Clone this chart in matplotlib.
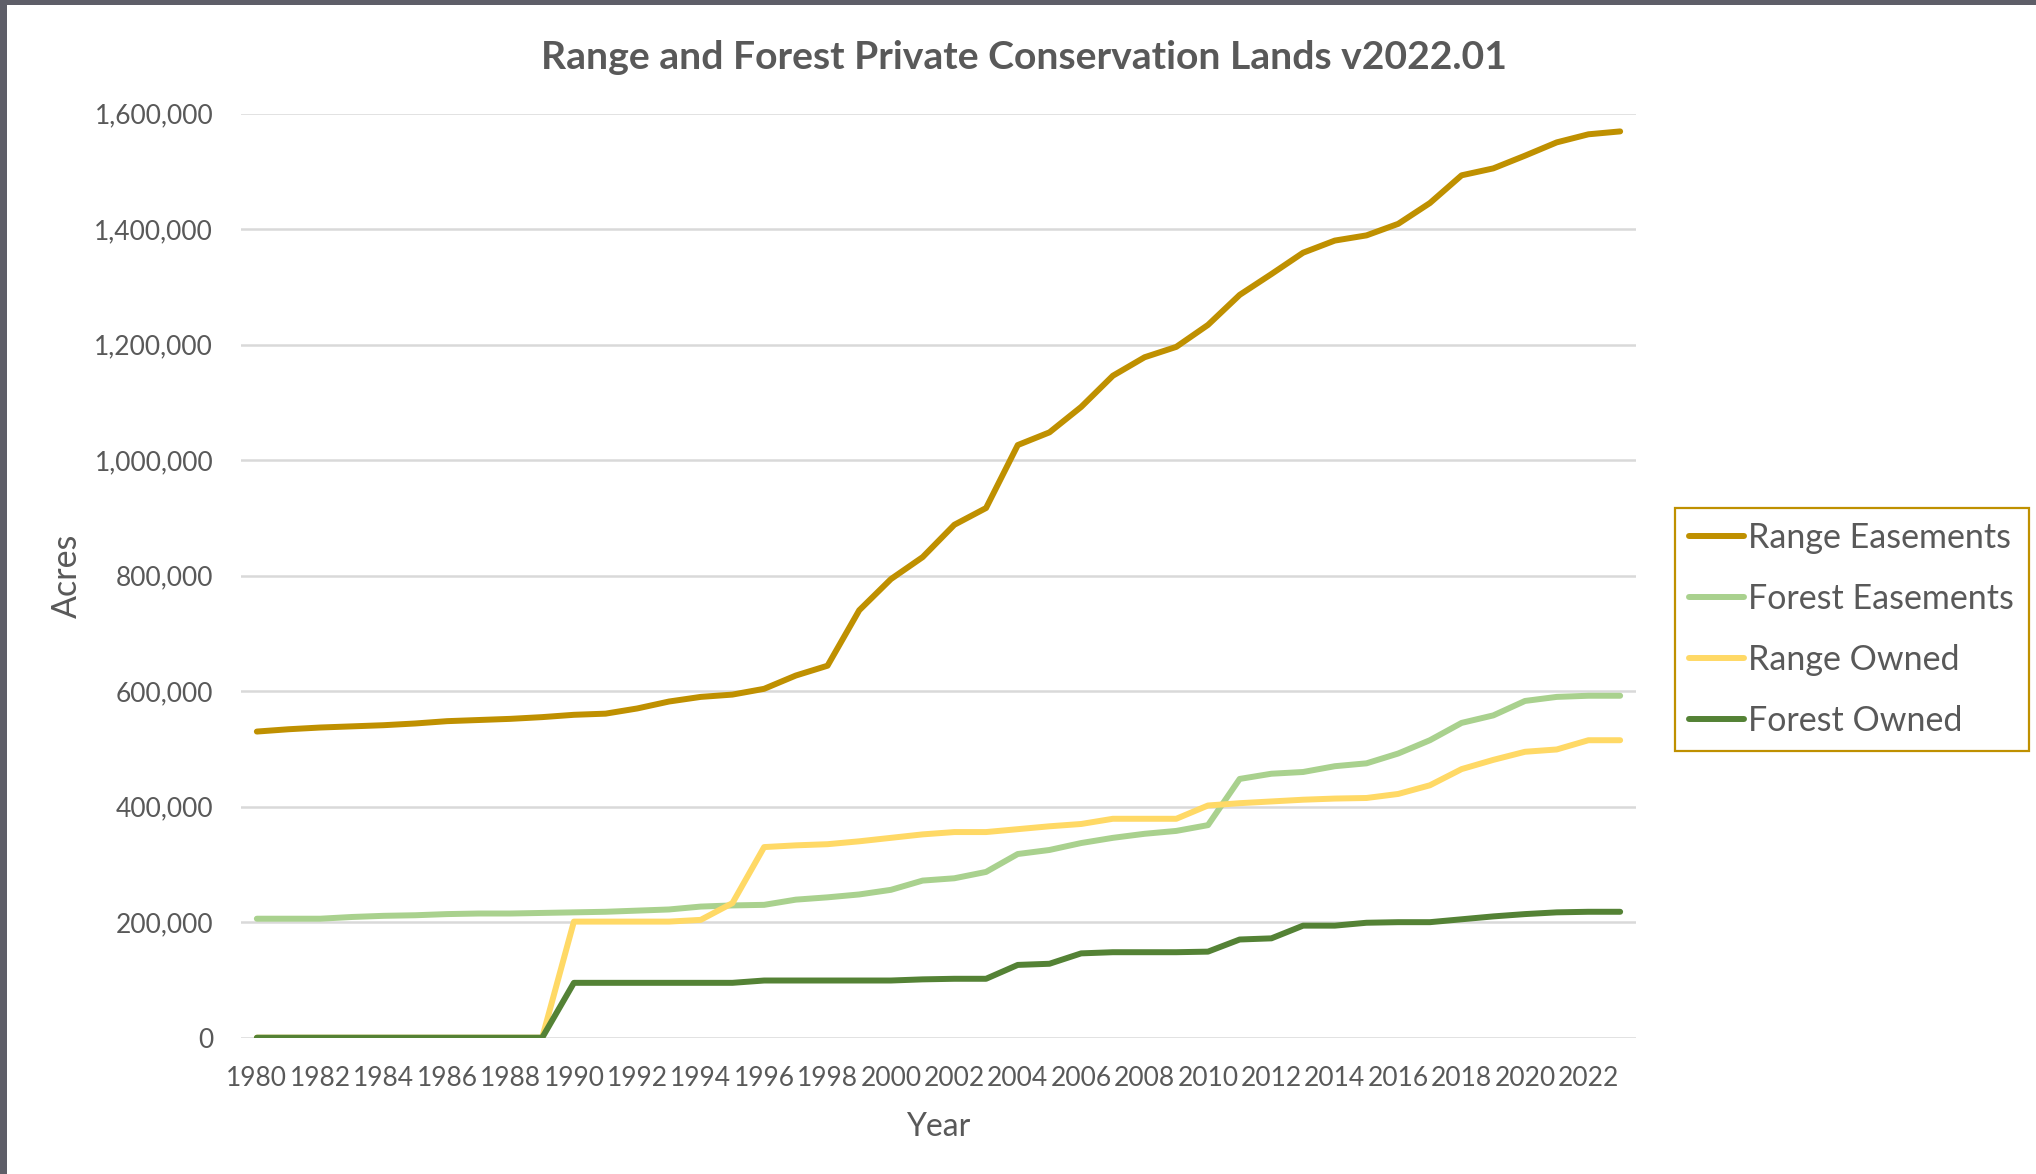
import matplotlib
matplotlib.use("Agg")
import matplotlib.pyplot as plt
from matplotlib.ticker import FuncFormatter
from matplotlib.patches import Rectangle

years = list(range(1980, 2024))

range_easements = [530, 534, 537, 539, 541, 544, 548, 550, 552, 555,
                   559, 561, 570, 582, 590, 594, 604, 627, 644, 740,
                   794, 832, 888, 917, 1026, 1048, 1092, 1146, 1178, 1196,
                   1234, 1286, 1322, 1359, 1380, 1389, 1409, 1445, 1493, 1505,
                   1527, 1550, 1564, 1569]
forest_easements = [206, 206, 206, 209, 211, 212, 214, 215, 215, 216,
                    217, 218, 220, 222, 227, 229, 230, 239, 243, 248,
                    256, 272, 276, 287, 318, 325, 337, 346, 353, 358,
                    368, 448, 457, 460, 470, 475, 492, 515, 545, 558,
                    583, 590, 592, 592]
range_owned = [0, 0, 0, 0, 0, 0, 0, 0, 0, 0,
               201, 201, 201, 201, 204, 233, 330, 333, 335, 340,
               346, 352, 356, 356, 361, 366, 370, 379, 379, 379,
               402, 406, 409, 412, 414, 415, 422, 437, 465, 481,
               495, 499, 515, 515]
forest_owned = [0, 0, 0, 0, 0, 0, 0, 0, 0, 0,
                95, 95, 95, 95, 95, 95, 99, 99, 99, 99,
                99, 101, 102, 102, 126, 128, 146, 148, 148, 148,
                149, 170, 172, 194, 194, 199, 200, 200, 205, 210,
                214, 217, 218, 218]

series_names = ["Range Easements", "Forest Easements", "Range Owned", "Forest Owned"]
series_values = [range_easements, forest_easements, range_owned, forest_owned]
series_colors = ["#BF9000", "#A9D18E", "#FFD966", "#548235"]

title = "Range and Forest Private Conservation Lands v2022.01"
y_ticks = [0, 200000, 400000, 600000, 800000, 1000000, 1200000, 1400000, 1600000]

TXT = "#595959"
plt.rcParams["font.family"] = ["Lato", "DejaVu Sans"]

fig = plt.figure(figsize=(20.36, 11.74), dpi=100)
fig.patch.set_facecolor("white")
ax = fig.add_axes([241 / 2036, 1 - 1037.7 / 1174, (1636 - 241) / 2036, (1037.7 - 113.5) / 1174])

x = list(range(len(years)))
for name, vals, col in zip(series_names, series_values, series_colors):
    ax.plot(x, [v * 1000 for v in vals], color=col, lw=4.3, label=name,
            solid_capstyle="round", solid_joinstyle="round", zorder=3)

ax.set_xlim(-0.5, len(years) - 0.5)
ax.set_ylim(0, 1600000)
ax.set_yticks(y_ticks)
ax.yaxis.set_major_formatter(FuncFormatter(lambda v, p: f"{int(v):,}"))
ax.set_xticks(x[::2])
ax.set_xticklabels([str(y) for y in years[::2]])
ax.grid(axis="y", color="#D9D9D9", lw=1.8, zorder=0)
ax.set_axisbelow(True)
for s in ax.spines.values():
    s.set_visible(False)
ax.tick_params(axis="both", length=0, labelsize=19, labelcolor=TXT)
ax.tick_params(axis="y", pad=20)
ax.tick_params(axis="x", pad=20.5)

ax.set_ylabel("Acres", fontsize=24.5, color=TXT)
ax.set_xlabel("Year", fontsize=23, color=TXT, labelpad=15.2)
ax.yaxis.set_label_coords(-0.113, 0.5)
fig.text(1024 / 2036, 1 - 57.5 / 1174, title, ha="center", va="center",
         fontsize=28.2, fontweight="bold", color=TXT)

leg = fig.legend(loc="upper left", bbox_to_anchor=(1675 / 2036, 1 - 508 / 1174),
                 fontsize=24.5, frameon=True, fancybox=False, framealpha=1,
                 edgecolor="#BF9000", handlelength=1.62, handletextpad=0.12,
                 borderpad=0.42, labelspacing=0.85, borderaxespad=0)
leg.get_frame().set_linewidth(1.6)
for t in leg.get_texts():
    t.set_color(TXT)

# screenshot frame edges
fig.patches.append(Rectangle((0, 1 - 5 / 1174), 1, 5 / 1174, transform=fig.transFigure,
                             facecolor="#5E5E68", edgecolor="none", zorder=10))
fig.patches.append(Rectangle((0, 0), 7 / 2036, 1, transform=fig.transFigure,
                             facecolor="#5E5E68", edgecolor="none", zorder=10))

fig.savefig("out.png", dpi=100, facecolor="white")
